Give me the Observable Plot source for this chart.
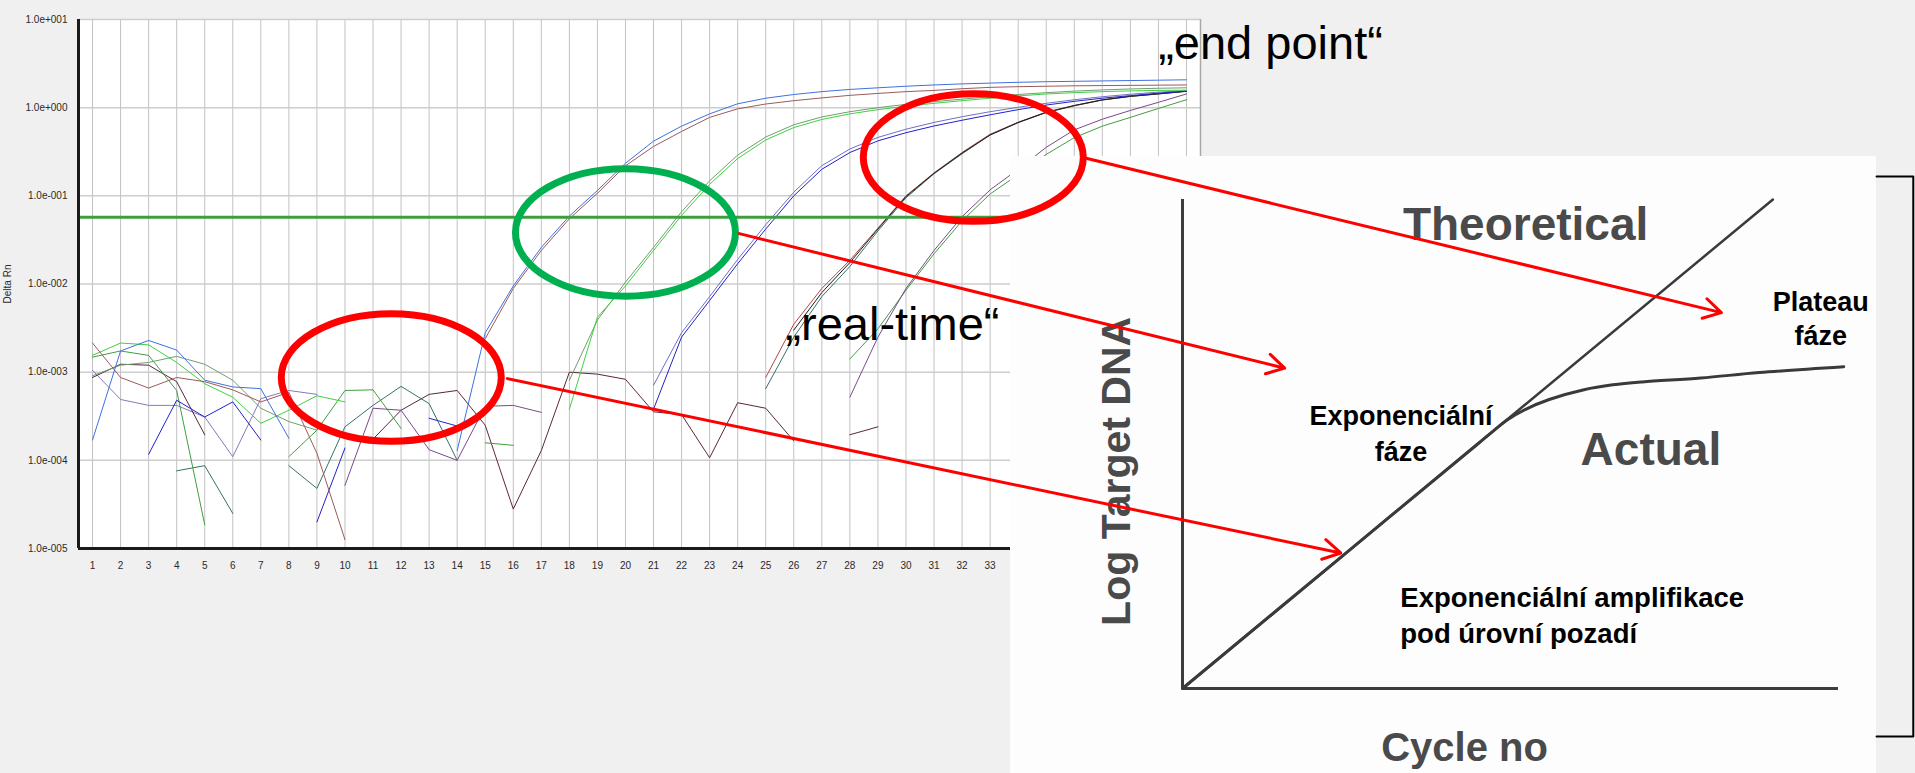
<!DOCTYPE html>
<html><head><meta charset="utf-8">
<script src="https://cdn.jsdelivr.net/npm/d3@7"></script>
<script src="https://cdn.jsdelivr.net/npm/@observablehq/plot@0.6"></script>
<style>
html,body{margin:0;padding:0;background:#f0f0f0;}
#stage{position:relative;width:1915px;height:773px;overflow:hidden;background:#f0f0f0;font-family:"Liberation Sans",Arial,sans-serif;}
#main,#overlay{position:absolute;left:0;top:0;}
#overlay{pointer-events:none;}
#inset{position:absolute;left:1010px;top:156px;width:866px;height:617px;background:#fdfdfd;}
svg{overflow:visible;}
</style></head>
<body>
<div id="stage"><div id="main"></div><div id="inset"></div><div id="overlay"></div></div>
<script>
// ---------- data: amplification plot (Delta Rn per cycle) ----------
const cycles = [1,2,3,4,5,6,7,8,9,10,11,12,13,14,15,16,17,18,19,20,21,22,23,24,25,26,27,28,29,30,31,32,33,34,35,36,37,38,39,40];
const decades = [1e-5, 1e-4, 1e-3, 1e-2, 1e-1, 1, 10];
const threshold = 0.0572;

const blueA = [1.7e-4,1.74e-3,2.29e-3,1.78e-3,8.1e-4,6.8e-4,6.5e-4,1.78e-4,null,null,
 null,null,null,1.29e-4,2.8e-3,9.5e-3,0.026,0.059,0.115,0.234,
 0.417,0.617,0.851,1.107,1.28,1.41,1.52,1.61,1.68,1.75,
 1.81,1.86,1.9,1.94,1.97,1.99,2.01,2.03,2.05,2.07];
const brownA = [2.14e-3,8.7e-4,6.6e-4,8.7e-4,7.8e-4,6.3e-4,4.6e-4,5.9e-4,1.2e-4,1.26e-5,
 null,null,null,null,2.4e-3,8.9e-3,0.024,0.055,0.107,0.219,
 0.363,0.537,0.776,0.97,1.1,1.2,1.29,1.38,1.45,1.52,
 1.57,1.64,1.7,1.73,1.75,1.77,1.78,1.79,1.8,1.81];
const greenB1 = [1.55e-3,2.14e-3,2.04e-3,1.29e-3,7.4e-4,5.2e-4,2.63e-4,3.7e-4,5.4e-4,4.6e-4,
 null,null,null,null,null,null,null,3.8e-4,4.2e-3,9.5e-3,
 0.024,0.06,0.135,0.265,0.43,0.595,0.735,0.85,0.95,1.04,
 1.12,1.2,1.28,1.36,1.43,1.48,1.52,1.55,1.57,1.58];
const greenB2 = [9.1e-4,1.2e-3,1.29e-3,1.51e-3,1.23e-3,8.1e-4,3.9e-4,2.75e-4,2.2e-4,null,
 null,null,null,null,null,null,null,8.1e-4,3.9e-3,0.0105,
 0.026,0.066,0.148,0.29,0.465,0.64,0.785,0.9,1.0,1.09,
 1.17,1.25,1.33,1.41,1.48,1.54,1.59,1.63,1.66,1.68];
const blueC1 = [null,null,1.17e-4,4.8e-4,3.1e-4,4.6e-4,1.7e-4,null,2.0e-5,1.38e-4,
 null,null,3.0e-4,2.45e-4,null,null,null,null,null,null,
 3.8e-4,2.5e-3,6.5e-3,0.017,0.042,0.1,0.2,0.31,0.42,0.52,
 0.62,0.72,0.83,0.95,1.07,1.18,1.28,1.37,1.46,1.54];
const blueC2 = [null,null,null,null,null,null,null,null,null,null,
 null,null,null,null,null,null,null,null,null,null,
 7.1e-4,2.8e-3,7.2e-3,0.019,0.047,0.11,0.22,0.34,0.46,0.57,
 0.68,0.79,0.9,1.01,1.12,1.23,1.33,1.42,1.5,1.56];
const redD1 = [null,null,null,null,null,null,null,null,null,null,
 null,null,null,null,null,null,null,null,null,null,
 null,null,null,null,8.7e-4,3.5e-3,8.9e-3,0.0186,0.043,0.1,
 0.182,0.31,0.5,0.684,0.89,1.06,1.23,1.35,1.44,1.54];
const tealD2 = [null,null,null,7.6e-5,8.7e-5,2.5e-5,null,8.7e-5,4.8e-5,2.4e-4,
 4.2e-4,6.9e-4,4.4e-4,1.0e-4,null,null,null,null,null,null,
 null,null,null,null,6.5e-4,2.5e-3,7.2e-3,0.0158,0.04,0.095,
 0.178,0.3,0.49,0.676,0.88,1.05,1.22,1.34,1.43,1.53];
const blackD3 = [null,null,null,null,null,null,null,null,null,null,
 null,null,null,null,null,null,null,null,null,null,
 null,null,null,null,null,3.0e-3,8.0e-3,0.0175,0.042,0.098,
 0.18,0.305,0.49,0.68,0.885,1.055,1.225,1.345,1.435,1.535];
const purpleE1 = [null,null,null,null,null,null,null,null,null,5.2e-5,
 3.9e-4,3.7e-4,1.32e-4,1.0e-4,4.1e-4,4.2e-4,3.5e-4,null,null,null,
 null,null,null,null,null,null,null,5.2e-4,2.5e-3,8.9e-3,
 0.024,0.058,0.117,0.2,0.355,0.56,0.74,0.93,1.15,1.43];
const greenE2 = [1.48e-3,1.74e-3,1.55e-3,6.2e-4,1.86e-5,null,null,1.1e-4,2.2e-4,6.2e-4,
 6.3e-4,2.3e-4,null,null,1.58e-4,1.48e-4,null,null,null,null,
 null,null,null,null,null,null,null,1.41e-3,3.1e-3,8.5e-3,
 0.022,0.052,0.105,0.174,0.295,0.457,0.617,0.776,0.98,1.23];
const maroonNTC = [8.7e-4,1.23e-3,1.2e-3,7.8e-4,1.95e-4,null,null,null,null,null,
 1.74e-4,3.7e-4,5.6e-4,6.2e-4,2.5e-4,2.8e-5,1.29e-4,1.0e-3,9.5e-4,8.3e-4,
 3.55e-4,3.3e-4,1.07e-4,4.5e-4,3.9e-4,1.66e-4,null,1.95e-4,2.4e-4,null,
 null,null,null,null,null,null,null,null,null,null];
const lavenderNTC = [1.05e-3,4.9e-4,4.2e-4,4.2e-4,3.1e-4,1.1e-4,5.0e-4,6.2e-4,5.6e-4,null,
 null,null,null,null,null,null,null,null,null,null,
 null,null,null,null,null,null,null,null,null,null,
 null,null,null,null,null,null,null,null,null,null];

const wells = [
  {values: lavenderNTC, color: "#8a78b8"},
  {values: maroonNTC, color: "#5a2838"},
  {values: tealD2, color: "#357268"},
  {values: greenE2, color: "#3f9f3f"},
  {values: purpleE1, color: "#7a4a8a"},
  {values: redD1, color: "#b04848"},
  {values: blackD3, color: "#1e1e1e"},
  {values: blueC2, color: "#7070c4"},
  {values: blueC1, color: "#2222cc"},
  {values: greenB2, color: "#6f9f6f"},
  {values: greenB1, color: "#40d040"},
  {values: brownA, color: "#9c5a5a"},
  {values: blueA, color: "#4070e0"}
];

// ---------- data: schematic inset ----------
const theoretical = [{cycle: 0, dna: 0}, {cycle: 90, dna: 100}];
const actual = [
  {cycle: 0, dna: 0}, {cycle: 25, dna: 27.8}, {cycle: 45, dna: 50}, {cycle: 47.5, dna: 52.8},
  {cycle: 49.6, dna: 55.0}, {cycle: 52.3, dna: 57.1}, {cycle: 55.9, dna: 59.1}, {cycle: 61.2, dna: 61.1},
  {cycle: 65.6, dna: 62.1}, {cycle: 70.1, dna: 62.7}, {cycle: 79.0, dna: 63.5}, {cycle: 87.9, dna: 64.6},
  {cycle: 100.8, dna: 65.8}
];

// ---------- annotation layout (in data units) ----------
const ellipses = [
  {cycle: 20.0, value: 0.0384, color: "#00b050"},
  {cycle: 32.4, value: 0.272, color: "#ff0000"},
  {cycle: 11.65, value: 8.7e-4, color: "#ff0000"}
];
const arrows = [
  {c1: 36.46, v1: 0.265, c2: 59.07, v2: 4.74e-3},
  {c1: 24.06, v1: 0.0373, c2: 43.5, v2: 1.11e-3},
  {c1: 15.79, v1: 8.45e-4, c2: 45.5, v2: 8.9e-6}
];
const callouts = [
  {text: "„end point“", cycle: 38.99, value: 3.58},
  {text: "„real-time“", cycle: 25.7, value: 2.29e-3}
];
const insetGray = [{text: "Theoretical", x: 52.3, y: 91.8}, {text: "Actual", x: 71.4, y: 45.8}];
const insetCentered = [
  {text: "Plateau", x: 97.3, y: 77.3}, {text: "fáze", x: 97.3, y: 70.3},
  {text: "Exponenciální", x: 33.3, y: 53.8}, {text: "fáze", x: 33.3, y: 46.6}
];
const insetLeft = [{text: "Exponenciální amplifikace", x: 33.2, y: 16.6}, {text: "pod úrovní pozadí", x: 33.2, y: 9.4}];
const bracket = [{x: 105.8, y: 104.7}, {x: 111.4, y: 104.7}, {x: 111.4, y: -9.8}, {x: 105.8, y: -9.8}];

const fmtExp = v => {
  const e = Math.round(Math.log10(v));
  return "1.0e" + (e < 0 ? "-" : "+") + String(Math.abs(e)).padStart(3, "0");
};
const svgStyle = {background: "transparent", maxWidth: "none", overflow: "visible"};

// ---------- main amplification chart ----------
const X = {domain: [0.5, 40.5]};
const Y = {type: "log", domain: [1e-5, 10]};
const main = Plot.plot({
  width: 1210, height: 580,
  marginLeft: 78, marginRight: 10, marginTop: 19, marginBottom: 32,
  style: {...svgStyle, fontFamily: "'Liberation Sans', Arial, sans-serif", fontSize: "10px", color: "#2a2a2a"},
  x: {...X, ticks: cycles, tickFormat: d => String(d), tickSize: 0, tickPadding: 13, label: null},
  y: {...Y, ticks: decades, tickFormat: fmtExp, tickSize: 0, tickPadding: 11,
      label: "Delta Rn", labelAnchor: "center", labelOffset: 75, labelArrow: "none"},
  marks: [
    Plot.frame({fill: "white", stroke: null}),
    Plot.ruleX(cycles, {stroke: "#c2c2c2", strokeWidth: 1}),
    Plot.ruleY(decades, {stroke: "#cdcdcd", strokeWidth: 1.5}),
    Plot.ruleX([40.5], {stroke: "#a8a8a8", strokeWidth: 1.5}),
    ...wells.map(w => Plot.line(cycles.map((c, i) => ({cycle: c, value: w.values[i]})),
      {x: "cycle", y: "value", stroke: w.color, strokeWidth: 1})),
    Plot.ruleY([threshold], {stroke: "#3d9e3d", strokeWidth: 3}),
    Plot.ruleX([0.5], {stroke: "#1a1a1a", strokeWidth: 3}),
    Plot.ruleY([1e-5], {stroke: "#1a1a1a", strokeWidth: 3})
  ]
});
document.getElementById("main").appendChild(main);

// ---------- inset schematic ----------
const inset = Plot.plot({
  width: 905, height: 617,
  marginLeft: 172, marginRight: 77, marginTop: 43, marginBottom: 85,
  style: {...svgStyle, fontFamily: "'Liberation Sans', Arial, sans-serif"},
  x: {domain: [0, 100], axis: null},
  y: {domain: [0, 100], axis: null},
  marks: [
    Plot.ruleX([0], {y1: 0, y2: 100, stroke: "#3c3c3c", strokeWidth: 3}),
    Plot.ruleY([0], {x1: 0, x2: 100, stroke: "#3c3c3c", strokeWidth: 3}),
    Plot.line(theoretical, {x: "cycle", y: "dna", stroke: "#3a3a3a", strokeWidth: 2.5}),
    Plot.line(actual, {x: "cycle", y: "dna", stroke: "#3a3a3a", strokeWidth: 3, curve: "catmull-rom"}),
    Plot.text(insetGray, {x: "x", y: "y", text: "text", fontSize: 46, fontWeight: "bold", fill: "#4a4a4a", lineAnchor: "bottom"}),
    Plot.text(insetCentered, {x: "x", y: "y", text: "text", fontSize: 27, fontWeight: "bold", fill: "#000", lineAnchor: "bottom"}),
    Plot.text(insetLeft, {x: "x", y: "y", text: "text", fontSize: 27.5, fontWeight: "bold", fill: "#000", lineAnchor: "bottom", textAnchor: "start"}),
    Plot.text(["Cycle no"], {x: 43.0, y: -14.9, text: d => d, fontSize: 40, fontWeight: "bold", fill: "#4a4a4a", lineAnchor: "bottom"}),
    Plot.text(["Log Target DNA"], {x: -10.06, y: 44.4, text: d => d, fontSize: 41, fontWeight: "bold", fill: "#4a4a4a", rotate: -90}),
    Plot.line(bracket, {x: "x", y: "y", stroke: "#000", strokeWidth: 2})
  ]
});
document.getElementById("inset").appendChild(inset);

// ---------- overlay annotations (in the amplification chart's units) ----------
const ellipseSymbol = {
  draw(ctx, size) {
    const rx = Math.sqrt(size / Math.PI), ry = rx * 0.58, k = 0.5523;
    ctx.moveTo(rx, 0);
    ctx.bezierCurveTo(rx, ry * k, rx * k, ry, 0, ry);
    ctx.bezierCurveTo(-rx * k, ry, -rx, ry * k, -rx, 0);
    ctx.bezierCurveTo(-rx, -ry * k, -rx * k, -ry, 0, -ry);
    ctx.bezierCurveTo(rx * k, -ry, rx, -ry * k, rx, 0);
    ctx.closePath();
  }
};
const overlay = Plot.plot({
  width: 1915, height: 773,
  style: {...svgStyle, fontFamily: "'Liberation Sans', Arial, sans-serif"},
  x: {...X, range: [78, 1200], axis: null},
  y: {...Y, range: [548, 19], axis: null},
  color: {type: "identity"},
  marks: [
    Plot.text(callouts, {x: "cycle", y: "value", text: "text", fontSize: 47, fill: "#000", textAnchor: "start", lineAnchor: "bottom"}),
    Plot.dot(ellipses, {x: "cycle", y: "value", r: 110, symbol: ellipseSymbol, stroke: "color", fill: "none", strokeWidth: 7}),
    Plot.arrow(arrows, {x1: "c1", y1: "v1", x2: "c2", y2: "v2", stroke: "#ff0000", strokeWidth: 3, headLength: 10})
  ]
});
document.getElementById("overlay").appendChild(overlay);
</script>
</body></html>
